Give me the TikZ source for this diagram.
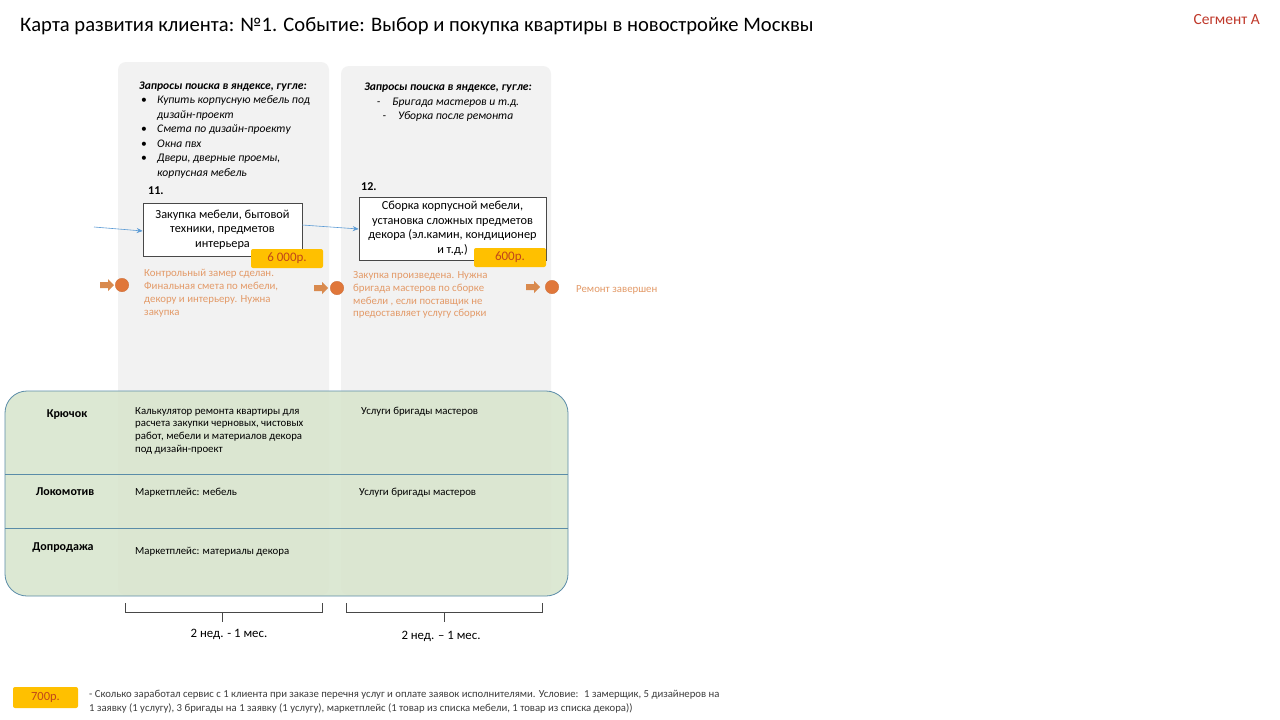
\documentclass[tikz,border=0pt]{standalone}
\usepackage{fontspec}
\setmainfont{Carlito}
\usetikzlibrary{arrows.meta}
\definecolor{colgray}{HTML}{F2F2F2}
\definecolor{tblgreen}{HTML}{D7E4CC}
\definecolor{tblline}{HTML}{5A8CA8}
\definecolor{blu}{HTML}{5B9BD5}
\definecolor{orng}{HTML}{E0773A}
\definecolor{orngarrow}{HTML}{D98A4E}
\definecolor{orngtext}{HTML}{E39A68}
\definecolor{tagfill}{HTML}{FFC000}
\definecolor{tagtext}{HTML}{C0471A}
\definecolor{segred}{HTML}{C0392B}
\definecolor{darktext}{HTML}{1A1A1A}
\tikzset{
  column/.style={fill=colgray, draw=none, rounded corners=8pt},
  stepbox/.style={draw=darktext!80, line width=0.6pt, fill=white, inner sep=0pt, align=center, font=\fontsize{12.3}{14.5}\selectfont},
  pricetag/.style={fill=tagfill, rounded corners=2pt, inner sep=0pt, text=tagtext, font=\fontsize{13}{14}\selectfont},
  stepnum/.style={anchor=west, inner sep=0pt, font=\fontsize{12}{14}\selectfont\bfseries},
  query/.style={anchor=north west, inner sep=0pt, align=left, font=\fontsize{11.6}{14.5}\selectfont\itshape},
  note/.style={anchor=north west, inner sep=0pt, align=left, text=orngtext, font=\fontsize{10.8}{12.7}\selectfont},
  dot/.style={circle, fill=orng, draw=orng!90!black, line width=0.3pt, minimum size=13.5pt, inner sep=0pt},
  flow/.style={blu, line width=0.6pt, -{Stealth[length=6pt,width=5pt]}},
  rowlabel/.style={inner sep=0pt, font=\fontsize{12}{14}\selectfont\bfseries},
  celltext/.style={anchor=north west, inner sep=0pt, align=left, font=\fontsize{10.8}{12.7}\selectfont},
  bracket/.style={draw=darktext!80, line width=0.7pt},
}
\newcommand{\blockarrow}[1]{\fill[orngarrow] (#1) ++(-7,-3) -- ++(8,0) -- ++(0,-3) -- ++(6,6) -- ++(-6,6) -- ++(0,-3) -- ++(-8,0) -- cycle;}
\begin{document}
\begin{tikzpicture}[x=1pt,y=-1pt]
\useasboundingbox[fill=white] (0,0) rectangle (1280,720);

% title
\node[anchor=west, inner sep=0pt, font=\fontsize{20.6}{22}\selectfont] (title) at (20,26)
  {Карта развития клиента: №1. Событие: Выбор и покупка квартиры в новостройке Москвы};
\node[anchor=east, inner sep=0pt, text=segred, font=\fontsize{15.5}{17}\selectfont] (seg) at (1260,20) {Сегмент А};

% columns
\path[column] (118,62) rectangle (329,595);
\path[column] (341,66) rectangle (551,595);

% queries
\node[query] (q1) at (139,81.5) {\textbf{Запросы поиска в яндексе, гугле:}\\
\hspace*{2pt}\makebox[16pt][l]{\upshape•}Купить корпусную мебель под\\
\hspace*{18pt}дизайн-проект\\
\hspace*{2pt}\makebox[16pt][l]{\upshape•}Смета по дизайн-проекту\\
\hspace*{2pt}\makebox[16pt][l]{\upshape•}Окна пвх\\
\hspace*{2pt}\makebox[16pt][l]{\upshape•}Двери, дверные проемы,\\
\hspace*{18pt}корпусная мебель};
\node[query, anchor=north, align=center] (q2) at (448,83) {\textbf{Запросы поиска в яндексе, гугле:}\\
-\hspace{12pt}Бригада мастеров и т.д.\\
-\hspace{12pt}Уборка после ремонта};

% steps
\node[stepnum] (n11) at (148,191) {11.};
\node[stepbox, minimum width=159pt, minimum height=53pt] (s11) at (222.5,229.5)
  {Закупка мебели, бытовой\\техники, предметов\\интерьера};
\node[stepnum] (n12) at (361,187) {12.};
\node[stepbox, minimum width=187pt, minimum height=63pt] (s12) at (452.5,228.5)
  {Сборка корпусной мебели,\\установка сложных предметов\\декора (эл.камин, кондиционер\\и т.д.)};

\node[pricetag, minimum width=72pt, minimum height=19pt] (p11) at (287,258.5) {6 000р.};
\node[pricetag, minimum width=72pt, minimum height=19pt] (p12) at (510,257.5) {600р.};

% flow arrows
\coordinate (in11) at (94,227);
\draw[flow] (in11) -- (s11.west |- 0,231);
\draw[flow] (s11.east |- 0,225) -- (s12.west |- 0,229);

% milestones
\coordinate (a1) at (107,285);
\coordinate (a2) at (321,288);
\coordinate (a3) at (533,287);
\blockarrow{a1}
\blockarrow{a2}
\blockarrow{a3}
\node[dot] (d1) at (122,285) {};
\node[dot] (d2) at (337,288) {};
\node[dot] (d3) at (552,287) {};

\node[note] (t1) at (144,269.5) {Контрольный замер сделан.\\Финальная смета по мебели,\\декору и интерьеру. Нужна\\закупка};
\node[note] (t2) at (353,271.5) {Закупка произведена. Нужна\\бригада мастеров по сборке\\мебели , если поставщик не\\предоставляет услугу сборки};
\node[note, anchor=west] (t3) at (576,290) {Ремонт завершен};

% table
\path[fill=tblgreen, fill opacity=0.85, draw=tblline, line width=0.8pt, rounded corners=22pt] (5,391) rectangle (568,596);
\coordinate (r1l) at (5,474); \coordinate (r1r) at (568,474);
\coordinate (r2l) at (5,528); \coordinate (r2r) at (568,528);
\draw[tblline, line width=0.8pt] (r1l) -- (r1r);
\draw[tblline, line width=0.8pt] (r2l) -- (r2r);

\node[rowlabel] (l1) at (67,415) {Крючок};
\node[rowlabel] (l2) at (65,492) {Локомотив};
\node[rowlabel] (l3) at (63,548) {Допродажа};

\node[celltext] (c11) at (135,407) {Калькулятор ремонта квартиры для\\расчета закупки черновых, чистовых\\работ, мебели и материалов декора\\под дизайн-проект};
\node[celltext] (c12) at (361,407) {Услуги бригады мастеров};
\node[celltext] (c21) at (135,488) {Маркетплейс: мебель};
\node[celltext] (c22) at (359,488) {Услуги бригады мастеров};
\node[celltext] (c31) at (135,547) {Маркетплейс: материалы декора};

% brackets
\draw[bracket] (125,603) -- (125,612) -- (322,612) -- (322,603);
\draw[bracket] (222,612) -- (222,622);
\draw[bracket] (346,603) -- (346,612) -- (542,612) -- (542,603);
\draw[bracket] (444,612) -- (444,622);
\node[inner sep=0pt, font=\fontsize{12.8}{14}\selectfont] (dur1) at (229,634) {2 нед. - 1 мес.};
\node[inner sep=0pt, font=\fontsize{12.8}{14}\selectfont] (dur2) at (441,636) {2 нед. – 1 мес.};

% footer
\node[pricetag, minimum width=65pt, minimum height=21pt, font=\fontsize{12.5}{14}\selectfont] (p700) at (45.5,697.5) {700р.};
\node[anchor=north west, inner sep=0pt, align=left, text=darktext!85, font=\fontsize{10.7}{14}\selectfont] (foot) at (89,690.5)
  {- Сколько заработал сервис с 1 клиента при заказе перечня услуг и оплате заявок исполнителями. Условие:~ 1 замерщик, 5 дизайнеров на\\
  1 заявку (1 услугу), 3 бригады на 1 заявку (1 услугу), маркетплейс (1 товар из списка мебели, 1 товар из списка декора))};
\end{tikzpicture}
\end{document}
